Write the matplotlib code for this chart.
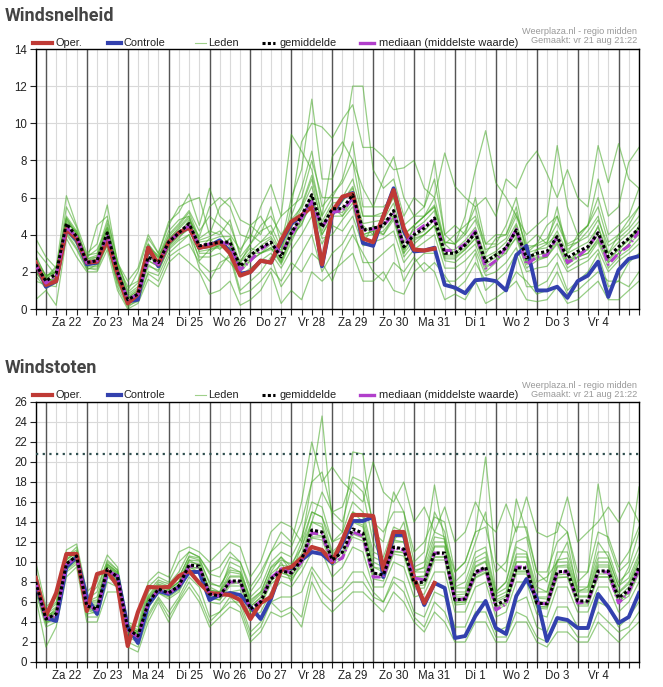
import matplotlib
matplotlib.use("Agg")
import matplotlib.pyplot as plt
from matplotlib.lines import Line2D
import numpy as np

W, H = 663, 687

# x-axis: 6-hourly steps from vr 21 18:00 to za 5 12:00
day_labels = ["Za 22", "Zo 23", "Ma 24", "Di 25", "Wo 26", "Do 27", "Vr 28",
              "Za 29", "Zo 30", "Ma 31", "Di 1", "Wo 2", "Do 3", "Vr 4"]

# ---------------- Windsnelheid (top) ----------------
oper_top = [2.5, 1.3, 1.5, 4.3, 3.8, 2.5, 2.55, 3.7, 1.9, 0.3, 0.8, 3.3, 2.4,
            3.6, 4.1, 4.4, 3.3, 3.4, 3.6, 3.0, 1.8, 2.0, 2.6, 2.5, 3.7,
            4.7, 5.05, 5.5, 2.4, 5.25, 6.05, 6.2, 3.8, 3.6, 5.0, 6.4, 4.35,
            3.2, 3.15, 3.25]
control_top = [2.5, 1.2, 1.5, 4.3, 3.7, 2.4, 2.5, 3.8, 1.9, 0.4, 0.5, 3.3, 2.3,
               3.6, 4.1, 4.4, 3.3, 3.4, 3.7, 3.1, 1.9, 2.0, 2.6, 2.5, 3.6,
               4.6, 5.0, 5.7, 2.3, 5.1, 6.0, 6.25, 3.55, 3.4, 5.0, 6.5, 4.2,
               3.1, 3.15, 3.3, 1.3, 1.15, 0.85, 1.55, 1.6, 1.5, 1.0, 2.9, 3.4,
               1.0, 1.0, 1.2, 0.6, 1.5, 1.8, 2.55, 0.65, 2.1, 2.7, 2.85]
mean_top = [2.4, 1.5, 1.9, 4.6, 3.9, 2.5, 2.6, 4.1, 2.0, 0.5, 0.8, 2.8, 2.5,
            3.6, 4.1, 4.6, 3.4, 3.5, 3.6, 3.6, 2.3, 2.9, 3.3, 3.6, 2.8,
            4.1, 5.0, 6.15, 4.4, 5.4, 5.4, 6.15, 4.25, 4.35, 4.5, 5.3, 3.35,
            4.0, 4.35, 4.9, 3.0, 3.0, 3.45, 4.1, 2.55, 2.9, 3.3, 4.25, 2.75,
            3.0, 3.1, 3.9, 2.75, 3.1, 3.35, 4.1, 2.8, 3.35, 3.8, 4.35]
median_top = [2.4, 1.4, 1.8, 4.4, 3.9, 2.5, 2.6, 4.0, 2.0, 0.5, 0.8, 2.7, 2.4,
              3.6, 4.1, 4.5, 3.4, 3.5, 3.6, 3.5, 2.1, 2.6, 3.2, 3.6, 2.95,
              4.0, 4.9, 5.8, 4.4, 5.2, 5.3, 5.95, 4.2, 4.3, 4.5, 5.1, 3.4,
              4.1, 4.5, 4.8, 3.15, 3.15, 3.5, 4.2, 2.2, 2.6, 3.3, 4.3, 2.4,
              2.8, 2.9, 3.9, 2.5, 2.8, 3.3, 4.1, 2.4, 3.0, 3.4, 4.2]
members_top = [
    [3.8, 2.8, 2.2, 6.1, 4.5, 3.0, 3.5, 5.6, 2.5, 1.5, 2.2, 4.0, 3.0, 4.7, 5.2, 6.2, 4.5,
     6.5, 5.0, 4.5, 3.0, 4.5, 4.0, 5.5, 3.5, 6.0, 7.5, 11.3, 7.0, 7.0, 8.5, 12.0, 12.0,
     7.5, 6.5, 7.0, 5.0, 6.0, 5.5, 7.0, 4.0, 4.5, 4.0, 6.0, 3.5, 3.5, 4.5, 6.0, 3.5,
     4.0, 3.5, 5.5, 3.0, 4.0, 4.5, 6.0, 4.0, 4.5, 5.0, 6.5],
    [0.5, 1.0, 0.2, 3.8, 2.8, 2.0, 2.0, 3.2, 1.0, 0.0, 0.3, 1.6, 1.2, 2.5, 3.0, 2.5, 2.0,
     0.8, 1.0, 1.5, 0.2, 0.5, 1.0, 2.0, 0.3, 1.0, 0.5, 2.0, 1.5, 2.0, 2.5, 3.0, 1.5,
     1.5, 2.0, 1.0, 0.8, 2.0, 2.5, 2.0, 0.5, 0.8, 0.5, 1.5, 0.3, 0.6, 1.0, 1.5, 0.5,
     0.4, 0.5, 1.2, 0.3, 0.5, 1.0, 1.5, 0.5, 0.5, 1.0, 1.5],
    [2.8, 1.8, 2.0, 5.0, 4.2, 2.7, 2.8, 4.6, 2.2, 0.8, 1.2, 3.2, 2.8, 3.9, 4.5, 5.2, 3.8,
     4.2, 4.0, 4.8, 2.8, 3.5, 4.2, 4.5, 3.3, 5.0, 6.5, 8.5, 5.5, 6.2, 6.8, 8.0, 5.0,
     5.0, 5.2, 6.5, 4.0, 4.5, 5.0, 6.0, 3.6, 3.5, 4.2, 5.5, 3.0, 3.8, 4.0, 5.2, 3.2,
     3.5, 3.8, 5.0, 3.2, 3.6, 4.2, 5.0, 3.0, 4.0, 4.8, 5.5],
    [2.0, 1.2, 1.6, 4.2, 3.5, 2.3, 2.3, 3.6, 1.6, 0.3, 0.6, 2.3, 2.1, 3.2, 3.7, 4.0, 2.8,
     2.8, 3.0, 2.5, 1.8, 2.2, 2.6, 3.0, 2.2, 3.2, 4.0, 5.0, 3.5, 4.5, 4.2, 5.0, 3.4,
     3.6, 3.8, 4.2, 2.5, 3.2, 3.6, 4.0, 2.2, 2.2, 2.6, 3.2, 1.8, 2.0, 2.5, 3.3, 2.0,
     2.2, 2.3, 3.0, 2.0, 2.3, 2.6, 3.2, 2.0, 2.6, 3.0, 3.5],
    [2.2, 1.6, 2.1, 4.8, 4.0, 2.8, 3.2, 4.4, 2.3, 0.6, 1.0, 3.0, 2.6, 3.4, 4.0, 4.8, 3.9,
     5.5, 6.0, 5.5, 4.0, 3.8, 5.5, 6.7, 5.0, 9.4, 8.5, 7.5, 5.0, 8.2, 9.0, 8.0, 6.5,
     5.5, 7.0, 8.2, 6.0, 5.0, 5.5, 8.0, 4.0, 3.5, 5.0, 7.5, 9.6, 6.8, 6.0, 5.0, 4.0,
     4.5, 5.0, 8.8, 5.5, 4.0, 4.5, 7.0, 5.0, 5.5, 7.9, 8.7],
    [3.2, 2.5, 1.8, 5.5, 4.4, 2.6, 4.5, 5.0, 2.5, 1.0, 2.0, 3.8, 3.0, 4.5, 5.5, 5.8, 6.0,
     4.0, 5.5, 6.0, 4.8, 4.5, 5.0, 4.0, 5.0, 5.5, 9.0, 10.0, 9.8, 9.2, 10.2, 11.0, 8.7,
     8.7, 8.2, 7.5, 7.6, 8.0, 6.5, 6.0, 8.4, 6.6, 6.0, 5.5, 6.0, 5.0, 7.0, 6.5, 7.8,
     8.5, 7.3, 6.0, 7.5, 6.0, 5.5, 8.8, 6.8, 8.9, 7.0, 6.5],
    [1.5, 1.3, 1.2, 4.0, 3.2, 2.1, 2.4, 3.4, 1.4, 0.2, 0.4, 1.9, 1.5, 2.8, 3.2, 3.5, 2.5,
     2.0, 2.2, 3.0, 1.0, 1.5, 2.0, 2.8, 1.2, 2.0, 3.0, 4.0, 2.0, 3.0, 3.5, 4.5, 2.5,
     2.5, 3.0, 3.5, 1.5, 2.5, 3.0, 3.0, 1.5, 1.5, 2.0, 3.0, 1.0, 1.5, 2.0, 3.0, 1.2,
     1.2, 1.5, 2.5, 1.0, 1.5, 2.0, 3.0, 1.2, 1.5, 2.5, 3.0],
    [2.6, 1.8, 2.0, 4.6, 4.2, 2.6, 2.8, 4.2, 2.4, 1.2, 1.5, 3.5, 2.8, 4.2, 4.8, 5.0, 3.0,
     3.0, 3.5, 3.2, 2.5, 3.5, 4.5, 5.0, 4.0, 4.8, 5.5, 7.0, 4.5, 5.5, 5.0, 6.0, 4.5,
     4.0, 4.8, 5.0, 3.0, 4.5, 5.0, 5.5, 3.5, 3.0, 3.5, 4.2, 2.6, 3.0, 3.0, 4.5, 2.5,
     3.2, 3.5, 4.0, 2.4, 3.0, 3.2, 4.5, 2.6, 3.2, 3.8, 4.4],
    [2.1, 1.4, 1.7, 4.4, 3.7, 2.4, 2.5, 3.9, 1.8, 0.5, 0.9, 2.6, 2.3, 3.5, 4.2, 4.4, 3.2,
     3.8, 3.2, 3.8, 2.0, 3.0, 3.0, 3.5, 2.5, 4.0, 4.5, 6.0, 4.0, 5.0, 5.8, 6.5, 4.0,
     4.2, 4.0, 5.0, 3.2, 3.8, 4.0, 4.5, 2.8, 2.8, 3.2, 3.8, 2.2, 2.6, 3.4, 4.0, 2.4,
     2.8, 2.8, 3.8, 2.6, 2.8, 3.0, 3.8, 2.5, 3.0, 3.5, 4.5],
    [2.5, 1.5, 1.6, 4.5, 3.6, 2.2, 2.2, 3.6, 1.2, 0.1, 0.5, 2.0, 1.8, 3.0, 3.5, 4.0, 2.2,
     1.5, 2.5, 2.8, 0.8, 1.0, 1.5, 2.2, 1.5, 2.5, 2.0, 3.0, 2.5, 1.5, 3.0, 4.0, 3.0,
     2.0, 1.5, 2.5, 2.0, 2.8, 2.0, 2.5, 1.8, 1.0, 1.5, 2.5, 1.5, 1.5, 1.0, 2.0, 1.5,
     0.8, 1.0, 2.0, 0.8, 1.0, 1.5, 2.0, 1.5, 1.5, 1.2, 2.0],
    [2.9, 1.7, 2.3, 4.9, 4.1, 2.9, 3.0, 4.8, 2.6, 0.9, 1.4, 3.5, 2.7, 4.0, 4.6, 5.3, 4.2,
     5.0, 4.5, 4.0, 3.2, 4.0, 3.6, 4.2, 3.0, 5.5, 6.0, 8.0, 6.0, 6.0, 7.0, 9.0, 5.5,
     5.5, 5.5, 6.0, 4.5, 5.0, 5.0, 5.5, 3.5, 4.0, 4.5, 5.0, 3.5, 4.0, 4.0, 5.5, 3.0,
     3.5, 4.5, 5.0, 3.5, 3.8, 4.5, 5.5, 3.6, 4.0, 4.5, 5.5],
    [1.8, 1.1, 1.4, 4.1, 3.3, 2.2, 2.1, 3.5, 1.5, 0.3, 0.7, 2.4, 2.0, 3.3, 3.8, 4.5, 2.6,
     3.2, 3.4, 3.5, 2.2, 2.6, 3.0, 3.3, 2.4, 3.6, 4.8, 5.5, 3.8, 4.0, 4.8, 5.5, 3.5,
     4.5, 4.0, 4.8, 2.8, 3.5, 4.0, 4.5, 2.6, 2.5, 3.0, 3.5, 2.0, 2.5, 3.2, 3.8, 2.2,
     2.6, 2.8, 3.5, 2.2, 2.6, 2.8, 3.6, 2.2, 2.8, 3.2, 3.8],
    [2.6, 1.6, 2.0, 4.9, 4.0, 2.6, 2.7, 4.3, 2.1, 0.6, 1.0, 3.0, 2.6, 3.8, 4.3, 4.9, 3.6,
     3.7, 3.9, 3.9, 2.5, 3.1, 3.6, 3.9, 3.0, 4.4, 5.4, 6.6, 4.7, 5.7, 5.8, 6.6, 4.6,
     4.7, 4.8, 5.7, 3.6, 4.3, 4.7, 5.3, 3.2, 3.2, 3.7, 4.4, 2.8, 3.1, 3.6, 4.6, 3.0,
     3.2, 3.3, 4.2, 3.0, 3.3, 3.6, 4.4, 3.0, 3.6, 4.1, 4.7],
    [2.2, 1.4, 1.8, 4.3, 3.7, 2.4, 2.4, 3.9, 1.8, 0.4, 0.7, 2.6, 2.3, 3.4, 3.9, 4.3, 3.1,
     3.2, 3.3, 3.3, 2.0, 2.6, 3.0, 3.3, 2.5, 3.8, 4.6, 5.7, 4.0, 5.0, 5.0, 5.7, 3.9,
     4.0, 4.2, 4.9, 3.0, 3.7, 4.0, 4.5, 2.7, 2.7, 3.2, 3.8, 2.3, 2.6, 3.0, 3.9, 2.5,
     2.7, 2.8, 3.6, 2.4, 2.8, 3.0, 3.7, 2.5, 3.0, 3.5, 4.0],
    [2.3, 1.7, 2.2, 4.7, 4.1, 2.7, 2.9, 4.4, 2.3, 0.7, 1.1, 3.3, 2.9, 3.7, 4.4, 5.0, 3.7,
     3.9, 4.2, 3.3, 2.6, 3.3, 3.0, 3.2, 3.2, 4.5, 5.6, 7.2, 5.0, 6.0, 6.0, 7.0, 5.0,
     5.0, 5.0, 6.0, 4.0, 4.5, 5.0, 5.6, 3.6, 3.5, 4.0, 4.8, 3.2, 3.4, 3.8, 5.0, 3.4,
     3.4, 3.6, 4.6, 3.4, 3.6, 3.9, 4.8, 3.4, 3.8, 4.3, 5.0],
    [2.0, 1.3, 1.7, 4.5, 3.8, 2.5, 2.5, 4.0, 1.9, 0.5, 0.7, 2.8, 2.4, 3.5, 4.0, 4.7, 3.3,
     3.3, 3.4, 3.8, 2.3, 2.7, 3.4, 3.8, 2.6, 4.0, 4.8, 6.2, 4.2, 5.2, 5.2, 6.0, 4.0,
     4.2, 4.4, 5.2, 3.2, 3.9, 4.2, 4.8, 2.9, 2.9, 3.3, 4.0, 2.4, 2.8, 3.2, 4.2, 2.6,
     2.9, 3.0, 3.8, 2.6, 3.0, 3.2, 4.0, 2.7, 3.2, 3.7, 4.3],
]

# ---------------- Windstoten (bottom) ----------------
oper_bot = [8.4, 4.6, 6.9, 10.8, 10.8, 5.1, 8.8, 9.1, 7.6, 1.6, 5.0, 7.5, 7.45,
            7.5, 8.6, 9.1, 7.9, 6.9, 6.8, 6.7, 6.2, 4.3, 5.9, 6.5, 9.2,
            9.5, 10.4, 11.5, 11.2, 10.0, 12.2, 14.7, 14.7, 14.6, 9.2, 13.0, 13.0,
            8.4, 5.9, 7.9]
control_bot = [8.0, 4.4, 4.1, 9.5, 10.5, 6.5, 4.8, 9.0, 8.6, 3.5, 1.9, 5.7, 7.1,
               6.8, 7.5, 9.0, 9.0, 6.2, 6.7, 6.9, 6.7, 5.5, 4.3, 6.3, 9.2,
               9.4, 10.2, 11.0, 10.8, 9.9, 11.9, 14.1, 14.1, 14.5, 8.5, 12.7, 12.7,
               8.4, 5.7, 7.9, 7.4, 2.4, 2.6, 4.6, 6.1, 3.4, 2.8, 6.6, 8.3,
               6.4, 2.1, 4.4, 4.2, 3.4, 3.4, 6.8, 5.5, 3.9, 4.5, 6.9]
mean_bot = [8.0, 4.3, 4.8, 9.8, 10.6, 5.6, 5.3, 9.3, 8.5, 3.3, 2.6, 5.9, 7.3,
            6.9, 7.6, 9.7, 9.6, 6.8, 6.6, 8.1, 8.1, 5.3, 6.0, 8.3, 9.1,
            8.9, 10.2, 13.2, 13.0, 10.2, 11.0, 13.3, 12.9, 8.9, 8.7, 11.5, 11.3,
            7.9, 8.0, 10.9, 10.9, 6.2, 6.3, 9.0, 9.5, 5.7, 6.2, 9.4, 9.4,
            5.9, 5.8, 9.0, 9.1, 6.1, 6.1, 9.1, 9.1, 6.4, 7.2, 9.5]
median_bot = [8.0, 4.3, 4.6, 9.7, 10.5, 5.7, 5.2, 9.1, 8.6, 3.2, 2.5, 6.0, 7.2,
              6.9, 7.5, 9.6, 9.5, 6.8, 6.6, 8.0, 8.0, 5.2, 6.1, 8.4, 9.3,
              8.9, 10.0, 12.9, 12.8, 9.9, 10.4, 13.0, 12.6, 8.5, 8.5, 11.4, 11.2,
              8.4, 8.2, 10.9, 10.8, 6.2, 6.3, 8.9, 9.4, 5.2, 5.8, 9.5, 9.5,
              5.9, 5.8, 9.0, 9.0, 5.9, 6.0, 9.0, 9.0, 5.9, 7.0, 9.3]
members_bot = [
    [10.0, 5.5, 6.5, 11.2, 11.8, 7.0, 8.0, 10.7, 9.5, 4.0, 3.5, 8.0, 9.0, 8.5, 11.0, 11.5, 11.0,
     10.0, 11.0, 12.0, 11.5, 8.5, 10.0, 13.0, 14.0, 13.5, 12.0, 18.0, 24.6, 14.0, 13.0, 21.0, 20.8,
     13.0, 12.0, 17.0, 15.0, 10.0, 11.0, 17.7, 12.0, 9.0, 10.0, 13.0, 20.5, 10.0, 9.0, 16.3, 13.0,
     9.0, 8.0, 14.0, 13.0, 8.0, 9.0, 17.8, 12.0, 9.0, 10.0, 17.5],
    [9.0, 5.0, 6.0, 10.5, 11.5, 6.5, 7.5, 10.0, 9.2, 3.5, 3.0, 7.5, 8.5, 8.0, 10.0, 11.0, 10.5,
     9.0, 9.5, 11.0, 10.0, 7.5, 9.0, 11.0, 13.0, 12.0, 16.0, 22.0, 18.0, 19.5, 18.0, 17.0, 16.0,
     20.0, 17.0, 16.0, 18.0, 14.0, 15.5, 13.0, 15.5, 12.0, 13.0, 16.0, 14.0, 13.0, 15.8, 13.0, 16.5,
     13.0, 12.5, 13.0, 16.5, 12.0, 13.0, 14.0, 15.5, 14.0, 16.0, 14.0],
    [6.5, 1.5, 3.5, 8.5, 9.5, 4.0, 4.0, 7.0, 7.0, 1.5, 1.0, 4.0, 6.0, 4.0, 6.0, 7.5, 6.0,
     3.5, 4.5, 5.5, 5.0, 2.0, 3.0, 5.0, 4.5, 5.0, 3.5, 8.0, 6.0, 5.0, 6.0, 7.0, 7.0,
     6.0, 5.0, 7.0, 6.0, 4.0, 3.0, 5.0, 4.0, 2.0, 2.0, 4.0, 4.0, 2.0, 2.0, 4.0, 4.0,
     2.0, 1.5, 3.0, 3.0, 2.0, 2.0, 4.0, 3.0, 2.0, 3.0, 4.0],
    [8.5, 4.8, 5.5, 10.2, 11.0, 6.0, 6.5, 9.8, 9.0, 3.6, 3.0, 6.5, 7.8, 7.5, 8.5, 10.5, 10.2,
     8.0, 7.5, 9.5, 9.0, 6.5, 7.5, 10.0, 11.0, 10.5, 12.5, 16.0, 15.5, 12.0, 13.0, 16.0, 15.0,
     11.0, 10.5, 13.5, 13.0, 9.5, 10.0, 13.0, 12.5, 7.5, 8.0, 11.0, 11.5, 7.0, 8.0, 11.5, 11.0,
     7.5, 7.0, 11.0, 11.0, 7.5, 7.5, 11.0, 11.0, 8.0, 9.0, 11.5],
    [7.5, 4.0, 4.3, 9.3, 10.2, 5.2, 4.8, 8.8, 8.1, 3.0, 2.3, 5.4, 6.9, 6.3, 7.0, 9.0, 9.0,
     6.0, 5.8, 7.0, 7.2, 4.5, 5.0, 7.0, 8.0, 7.5, 9.0, 11.0, 11.0, 8.5, 9.5, 11.5, 11.0,
     7.5, 7.5, 10.0, 9.5, 6.5, 6.8, 9.0, 9.0, 5.0, 5.0, 7.5, 8.0, 4.5, 5.0, 8.0, 8.0,
     4.8, 4.5, 7.5, 7.5, 5.0, 5.0, 7.5, 7.5, 5.0, 6.0, 8.0],
    [8.2, 4.2, 5.0, 9.9, 10.8, 5.5, 5.5, 9.5, 8.8, 3.3, 2.8, 6.2, 7.5, 7.0, 7.8, 10.0, 9.8,
     7.0, 6.8, 8.5, 8.5, 5.5, 6.5, 9.0, 10.5, 9.0, 11.5, 14.0, 13.5, 10.5, 11.5, 14.0, 13.5,
     9.5, 9.0, 12.0, 12.0, 8.5, 8.5, 11.5, 11.5, 6.5, 6.5, 9.5, 10.0, 6.0, 6.5, 10.0, 10.0,
     6.0, 6.0, 9.5, 9.5, 6.5, 6.5, 9.5, 9.5, 6.5, 7.5, 10.0],
    [7.0, 3.5, 4.0, 9.0, 9.8, 4.5, 4.5, 8.0, 7.5, 2.5, 2.0, 4.8, 6.5, 5.0, 6.5, 8.5, 7.5,
     4.5, 5.0, 6.0, 6.0, 3.0, 4.0, 6.0, 6.5, 6.5, 7.0, 9.5, 8.0, 7.0, 7.5, 9.0, 9.0,
     7.0, 6.0, 8.5, 8.0, 5.0, 4.5, 7.0, 6.5, 3.5, 3.5, 6.0, 6.0, 3.0, 3.5, 6.0, 6.5,
     3.5, 3.0, 5.5, 5.5, 3.5, 3.5, 6.0, 5.5, 3.5, 4.5, 6.0],
    [8.0, 4.5, 5.2, 10.0, 10.5, 6.0, 6.0, 9.0, 8.2, 3.0, 2.5, 6.0, 7.0, 7.2, 8.0, 9.5, 9.0,
     7.5, 7.0, 10.0, 9.5, 6.0, 7.0, 8.0, 10.0, 8.0, 10.0, 14.0, 17.0, 15.0, 14.0, 18.0, 17.0,
     12.0, 10.0, 12.0, 14.0, 9.0, 9.5, 15.0, 13.0, 8.0, 9.0, 12.0, 15.0, 7.0, 8.0, 12.0, 12.5,
     8.0, 8.5, 10.0, 12.0, 7.0, 7.5, 12.0, 10.5, 7.5, 9.5, 13.0],
    [7.8, 4.1, 4.6, 9.6, 10.4, 5.4, 5.0, 9.2, 8.4, 3.1, 2.6, 5.8, 7.2, 6.6, 7.4, 9.4, 9.4,
     6.5, 6.2, 8.0, 8.0, 5.0, 5.8, 8.5, 9.0, 8.5, 10.5, 12.5, 12.5, 10.0, 11.0, 13.0, 12.5,
     9.0, 8.5, 11.0, 11.0, 7.5, 8.0, 10.5, 10.5, 6.0, 6.0, 8.5, 9.0, 5.5, 6.0, 9.0, 9.0,
     5.5, 5.5, 8.5, 8.5, 6.0, 6.0, 8.5, 8.5, 6.0, 7.0, 9.0],
    [7.2, 3.8, 4.5, 9.2, 10.0, 4.8, 5.0, 8.5, 7.8, 2.0, 1.5, 4.5, 6.3, 4.5, 6.2, 8.0, 6.5,
     4.0, 5.0, 6.5, 5.5, 2.5, 3.5, 6.0, 5.0, 5.5, 4.5, 9.0, 7.0, 6.0, 7.0, 8.0, 8.0,
     6.5, 6.0, 8.0, 7.0, 4.5, 3.5, 6.0, 5.0, 2.5, 2.5, 5.0, 5.0, 2.5, 2.5, 5.0, 4.5,
     2.5, 2.0, 4.0, 4.0, 2.5, 2.5, 5.0, 4.0, 3.0, 3.5, 5.0],
    [9.0, 4.9, 5.8, 10.6, 11.2, 6.3, 7.0, 10.2, 9.2, 3.8, 3.2, 7.0, 8.2, 7.8, 9.0, 11.0, 10.5,
     8.8, 8.5, 10.5, 10.0, 7.0, 8.5, 11.0, 12.0, 11.5, 14.0, 18.0, 19.0, 15.0, 15.5, 18.5, 18.0,
     14.0, 13.0, 15.0, 15.0, 11.0, 12.0, 14.5, 14.0, 9.0, 10.0, 13.0, 13.5, 9.0, 10.0, 13.5, 13.5,
     9.0, 9.0, 12.0, 13.0, 9.0, 9.0, 13.0, 12.5, 9.5, 11.0, 13.5],
    [8.3, 4.5, 5.0, 10.0, 10.6, 5.8, 5.8, 9.6, 8.8, 3.4, 2.8, 6.3, 7.6, 7.2, 8.0, 10.2, 9.6,
     7.2, 7.0, 9.0, 8.8, 5.8, 6.8, 9.5, 10.5, 9.5, 12.0, 15.0, 14.5, 11.0, 12.0, 15.0, 14.0,
     10.0, 9.5, 12.5, 12.5, 9.0, 9.0, 12.0, 12.0, 7.0, 7.0, 10.0, 10.5, 6.5, 7.0, 10.5, 10.5,
     6.5, 6.5, 10.0, 10.0, 7.0, 7.0, 10.0, 10.0, 7.0, 8.0, 10.5],
    [8.3, 4.6, 5.1, 10.2, 11.0, 5.9, 5.6, 9.7, 8.9, 3.5, 2.8, 6.3, 7.7, 7.3, 8.0, 10.2, 10.1,
     7.2, 7.0, 8.6, 8.6, 5.6, 6.4, 8.8, 9.7, 9.5, 10.8, 14.0, 13.8, 10.8, 11.6, 14.1, 13.7,
     9.5, 9.3, 12.2, 12.0, 8.5, 8.6, 11.6, 11.6, 6.7, 6.8, 9.6, 10.1, 6.2, 6.7, 10.0, 10.0,
     6.4, 6.3, 9.6, 9.7, 6.6, 6.6, 9.7, 9.7, 6.9, 7.8, 10.1],
    [7.7, 4.0, 4.5, 9.4, 10.2, 5.3, 5.0, 8.9, 8.1, 3.1, 2.4, 5.5, 6.9, 6.5, 7.2, 9.2, 9.1,
     6.4, 6.2, 7.6, 7.6, 5.0, 5.6, 7.8, 8.6, 8.3, 9.6, 12.4, 12.2, 9.6, 10.4, 12.5, 12.1,
     8.3, 8.1, 10.8, 10.6, 7.3, 7.4, 10.2, 10.2, 5.7, 5.8, 8.4, 8.9, 5.2, 5.7, 8.8, 8.8,
     5.4, 5.3, 8.4, 8.5, 5.6, 5.6, 8.5, 8.5, 5.9, 6.6, 8.9],
    [8.6, 4.4, 5.4, 10.4, 10.8, 6.0, 6.2, 9.8, 9.0, 3.7, 3.0, 6.6, 8.0, 7.6, 8.4, 10.6, 10.4,
     7.8, 7.6, 9.2, 9.0, 6.2, 7.0, 9.4, 10.2, 9.8, 11.4, 15.0, 14.5, 12.0, 12.5, 15.0, 14.5,
     10.5, 10.0, 13.0, 13.0, 9.2, 9.4, 12.5, 12.3, 7.4, 7.4, 10.4, 11.0, 6.8, 7.4, 10.8, 10.8,
     7.0, 7.0, 10.2, 10.4, 7.2, 7.2, 10.4, 10.4, 7.6, 8.4, 10.8],
    [7.6, 4.2, 4.9, 9.6, 10.5, 5.5, 5.2, 9.0, 8.3, 3.2, 2.6, 5.7, 7.1, 6.7, 7.4, 9.5, 9.4,
     6.6, 6.4, 7.8, 7.9, 5.1, 5.8, 8.1, 8.9, 8.6, 9.9, 12.8, 12.6, 9.9, 10.6, 12.8, 12.4,
     8.6, 8.4, 11.1, 10.9, 7.6, 7.7, 10.5, 10.5, 5.9, 6.0, 8.7, 9.2, 5.4, 5.9, 9.1, 9.1,
     5.6, 5.5, 8.7, 8.8, 5.8, 5.8, 8.8, 8.8, 6.1, 6.9, 9.2],
]
gust_reference = 20.8

RED = "#bf3a35"
BLUE = "#3341ae"
GREEN = "#4aab2b"
PURPLE = "#b13fcb"
MEAN_DASH = (1, 0.75)
MEDIAN_DASH = (3, 1, 0.5, 1)


def px(x, y):
    return x / W, 1 - y / H


def draw_panel(ax, members, oper, control, mean, median, ymax):
    n = len(mean)
    x = np.arange(n)
    ax.set_xlim(0, n - 1)
    ax.set_ylim(0, ymax)
    ax.set_yticks(np.arange(0, ymax + 1, 2))
    ax.set_xticks(x)
    labels = [""] * n
    for k, lab in enumerate(day_labels):
        labels[3 + 4 * k] = lab
    ax.set_xticklabels(labels)
    ax.grid(True, color="#d9d9d9", lw=0.8, zorder=0)
    ax.set_axisbelow(True)
    for d in range(1, n, 4):
        ax.axvline(d, color="#555555", lw=1.0, zorder=1)
    for m in members:
        ax.plot(x, m, color=GREEN, lw=0.9, alpha=0.58, zorder=2)
    ax.plot(x, median, color=PURPLE, lw=2.2, dashes=MEDIAN_DASH, zorder=5)
    ax.plot(x, mean, color="black", lw=2.2, dashes=MEAN_DASH, zorder=6)
    ax.plot(x, control, color=BLUE, lw=2.8, zorder=4)
    ax.plot(x[:len(oper)], oper, color=RED, lw=3.0, zorder=4.5)
    ax.tick_params(direction="out", length=4, color="#222222",
                   labelsize=8.3, labelcolor="#222222", pad=2)
    for s in ax.spines.values():
        s.set_color("black")
        s.set_linewidth(1.0)


def legend_line(x1, x2, y, **kw):
    (fx1, fy), (fx2, _) = px(x1, y), px(x2, y)
    fig.add_artist(Line2D([fx1, fx2], [fy, fy], transform=fig.transFigure, **kw))


def draw_header(title, title_y, legend_y, credit_y):
    fig.text(*px(5, title_y), title, fontsize=13, fontweight="bold",
             color="#444444", family="Roboto", va="center", ha="left")
    legend_line(33, 52, legend_y, color=RED, lw=3)
    legend_line(108, 121, legend_y, color=BLUE, lw=3)
    legend_line(195, 206, legend_y, color="#9fd08a", lw=0.8)
    legend_line(262, 275, legend_y, color="black", lw=2.2, dashes=MEAN_DASH)
    legend_line(360, 369, legend_y, color=PURPLE, lw=2.4)
    legend_line(372, 373.5, legend_y, color=PURPLE, lw=2.4)
    names = ["Oper.", "Controle", "Leden", "gemiddelde",
             "mediaan (middelste waarde)"]
    text_x = [55, 124, 208, 279, 379]
    for name, tx in zip(names, text_x):
        fig.text(*px(tx, legend_y), name, fontsize=7.9, color="#222222",
                 family="Liberation Sans", va="center", ha="left")
    fig.text(*px(637, credit_y), "Weerplaza.nl - regio midden", fontsize=6.6,
             color="#999999", family="Liberation Sans", va="center", ha="right")
    fig.text(*px(637, credit_y + 9.5), "Gemaakt: vr 21 aug 21:22", fontsize=6.6,
             color="#999999", family="Liberation Sans", va="center", ha="right")


plt.rcParams["font.family"] = ["Liberation Sans", "DejaVu Sans"]
fig = plt.figure(figsize=(W / 100, H / 100), dpi=100)

left, right = 35.7, 639
ax1 = fig.add_axes([left / W, 1 - 309 / H, (right - left) / W, 260 / H])
ax2 = fig.add_axes([left / W, 1 - 662 / H, (right - left) / W, 260 / H])

draw_panel(ax1, members_top, oper_top, control_top, mean_top, median_top, 14)
draw_panel(ax2, members_bot, oper_bot, control_bot, mean_bot, median_bot, 26)
ax2.axhline(gust_reference, color="#2f4f4f", lw=1.6, dashes=(1, 2), zorder=3)

draw_header("Windsnelheid", 16, 42.5, 31)
draw_header("Windstoten", 368, 395, 385)

fig.savefig("out.png", dpi=100)
